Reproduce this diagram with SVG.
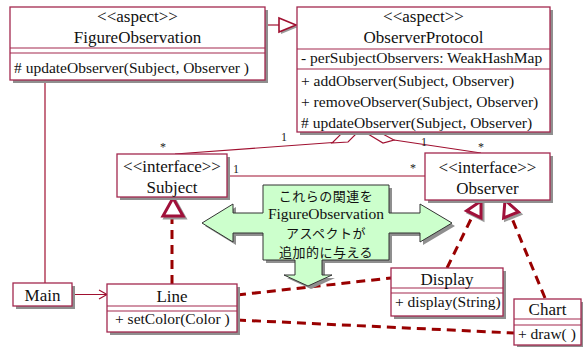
<svg xmlns="http://www.w3.org/2000/svg" width="583" height="347" viewBox="0 0 583 347">
  <style>
    .box{fill:#fff;stroke:#a3284f;stroke-width:1.3}
    .shadow{fill:#8f8f8f}
    .hdr{font-family:"Liberation Serif","Times New Roman",serif;font-size:17px;text-anchor:middle;fill:#111}
    .mem{font-family:"Liberation Serif","Times New Roman",serif;font-size:15.5px;fill:#111}
    .div{stroke:#a3284f;stroke-width:1.2}
    .assoc{stroke:#a01030;fill:none;stroke-width:1.2}
    .diamond{fill:#fff;stroke:#a01030;stroke-width:1.2}
    .real{stroke:#990000;stroke-width:3;stroke-dasharray:9 6;fill:none}
    .tri{fill:#fff;stroke:#a0103a;stroke-width:3;stroke-linejoin:miter}
    .trishadow{fill:none;stroke:#9a9a9a;stroke-width:3}
    .mult{font-family:"Liberation Serif","Times New Roman",serif;font-size:12px;fill:#222}
    .note{fill:#ccffcc;stroke:#333;stroke-width:1}
    .jp{font-family:"Noto Sans CJK JP","Noto Sans",sans-serif;font-size:13px;letter-spacing:0.5px;text-anchor:middle;fill:#111}
    .en{font-family:"Liberation Serif","Times New Roman",serif;font-size:15.5px;text-anchor:middle;fill:#111}
  </style>

  <!-- connectors -->
  <g id="connectors">
    <!-- FigureObservation extends ObserverProtocol -->
    <line class="assoc" x1="265" y1="25" x2="279" y2="25"/>
    <polygon points="281,20 298,27 281,34" fill="#9a9a9a"/>
    <polygon points="279,18 296,25 279,32" fill="#fff" stroke="#a01030" stroke-width="1.6"/>

    <!-- FigureObservation to Main -->
    <line class="assoc" x1="45" y1="80" x2="45" y2="283"/>

    <!-- Main to Line -->
    <line class="assoc" x1="72" y1="294.5" x2="107" y2="294.5"/>
    <polyline class="assoc" points="99,290 107,294.5 99,299"/>

    <!-- Subject - Observer -->
    <line class="assoc" x1="227" y1="176" x2="425" y2="176"/>
    <text class="mult" x="233" y="173">1</text>
    <text class="mult" x="410" y="172">*</text>

    <!-- ObserverProtocol aggregations -->
    <line class="assoc" x1="175" y1="154" x2="333" y2="142.5"/>
    <polygon class="diamond" points="332,143 348,142 357,133 341,134"/>
    <text class="mult" x="160" y="151">*</text>
    <text class="mult" x="281" y="141">1</text>

    <line class="assoc" x1="394" y1="140" x2="481" y2="153"/>
    <polygon class="diamond" points="368,134 381,133 394,140 383,143"/>
    <text class="mult" x="421" y="146">1</text>
    <text class="mult" x="478" y="151">*</text>

    <!-- realizations -->
    <line class="real" x1="172" y1="284" x2="172" y2="217"/>
    <polygon class="trishadow" points="165,218 175,200 185,218"/>
    <polygon class="tri" points="163,216 173,198 183,216"/>

    <line class="real" x1="447" y1="268" x2="473" y2="215"/>
    <polygon class="trishadow" points="483,203 468.6,212.7 483,219.9"/>
    <polygon class="tri" points="481,201 466.6,210.7 481,217.9"/>

    <line class="real" x1="545" y1="298" x2="511" y2="216"/>
    <polygon class="trishadow" points="507,202 520.4,214 505.6,220"/>
    <polygon class="tri" points="505,200 518.4,212 503.6,218"/>

    <line class="real" x1="237" y1="295" x2="391" y2="278"/>
    <line class="real" x1="237" y1="320" x2="514" y2="333"/>
  </g>

  <!-- note callout -->
  <g id="note">
    <polygon class="shadow" transform="translate(3,3)" points="263,185 389,185 389,213 420,213 420,204 452,223 420,242 420,233 389,233 389,260 322,260 322,275 332,275 308,286 284,275 295,275 295,260 263,260 263,233 233,233 233,242 202,223 233,204 233,213 263,213"/>
    <polygon class="note" points="263,185 389,185 389,213 420,213 420,204 452,223 420,242 420,233 389,233 389,260 322,260 322,275 332,275 308,286 284,275 295,275 295,260 263,260 263,233 233,233 233,242 202,223 233,204 233,213 263,213"/>
    <text class="jp" x="326" y="201">これらの関連を</text>
    <text class="en" x="326" y="219">FigureObservation</text>
    <text class="jp" x="326" y="238">アスペクトが</text>
    <text class="jp" x="326" y="257">追加的に与える</text>
  </g>

  <g id="FigureObservation">
    <rect class="shadow" x="13" y="10" width="255" height="73"/>
    <rect class="box" x="10" y="7" width="255" height="73"/>
    <line class="div" x1="10" y1="48" x2="265" y2="48"/>
    <line class="div" x1="10" y1="53" x2="265" y2="53"/>
    <text class="hdr" x="137.5" y="22">&lt;&lt;aspect&gt;&gt;</text>
    <text class="hdr" x="137.5" y="43">FigureObservation</text>
    <text class="mem" x="14" y="73"># updateObserver(Subject, Observer )</text>
  </g>

  <g id="ObserverProtocol">
    <rect class="shadow" x="300" y="10" width="253" height="125"/>
    <rect class="box" x="297" y="7" width="253" height="125"/>
    <line class="div" x1="297" y1="49" x2="550" y2="49"/>
    <line class="div" x1="297" y1="69" x2="550" y2="69"/>
    <text class="hdr" x="423.5" y="22">&lt;&lt;aspect&gt;&gt;</text>
    <text class="hdr" x="423.5" y="43">ObserverProtocol</text>
    <text class="mem" x="301" y="63">- perSubjectObservers: WeakHashMap</text>
    <text class="mem" x="301" y="86">+ addObserver(Subject, Observer)</text>
    <text class="mem" x="301" y="107">+ removeObserver(Subject, Observer)</text>
    <text class="mem" x="301" y="128"># updateObserver(Subject, Observer)</text>
  </g>

  <g id="Subject">
    <rect class="shadow" x="120" y="157" width="110" height="43"/>
    <rect class="box" x="117" y="154" width="110" height="43"/>
    <text class="hdr" x="172" y="172">&lt;&lt;interface&gt;&gt;</text>
    <text class="hdr" x="172" y="193">Subject</text>
  </g>

  <g id="Observer">
    <rect class="shadow" x="428" y="156" width="125" height="47"/>
    <rect class="box" x="425" y="153" width="125" height="47"/>
    <text class="hdr" x="487.5" y="173">&lt;&lt;interface&gt;&gt;</text>
    <text class="hdr" x="487.5" y="194">Observer</text>
  </g>

  <g id="Main">
    <rect class="shadow" x="16" y="286" width="59" height="23"/>
    <rect class="box" x="13" y="283" width="59" height="23"/>
    <text class="hdr" x="42.5" y="301">Main</text>
  </g>

  <g id="Line">
    <rect class="shadow" x="110" y="287" width="130" height="48"/>
    <rect class="box" x="107" y="284" width="130" height="48"/>
    <line class="div" x1="107" y1="306" x2="237" y2="306"/>
    <line class="div" x1="107" y1="311" x2="237" y2="311"/>
    <text class="hdr" x="172" y="302">Line</text>
    <text class="mem" x="115" y="324">+ setColor(Color )</text>
  </g>

  <g id="Display">
    <rect class="shadow" x="394" y="271" width="112" height="48"/>
    <rect class="box" x="391" y="268" width="112" height="48"/>
    <line class="div" x1="391" y1="288" x2="503" y2="288"/>
    <line class="div" x1="391" y1="293" x2="503" y2="293"/>
    <text class="hdr" x="447" y="285">Display</text>
    <text class="mem" x="395" y="307">+ display(String)</text>
  </g>

  <g id="Chart">
    <rect class="shadow" x="517" y="302" width="67" height="46"/>
    <rect class="box" x="514" y="299" width="67" height="46"/>
    <line class="div" x1="514" y1="319" x2="581" y2="319"/>
    <line class="div" x1="514" y1="325" x2="581" y2="325"/>
    <text class="hdr" x="547.5" y="315">Chart</text>
    <text class="mem" x="518" y="339">+ draw( )</text>
  </g>
</svg>
